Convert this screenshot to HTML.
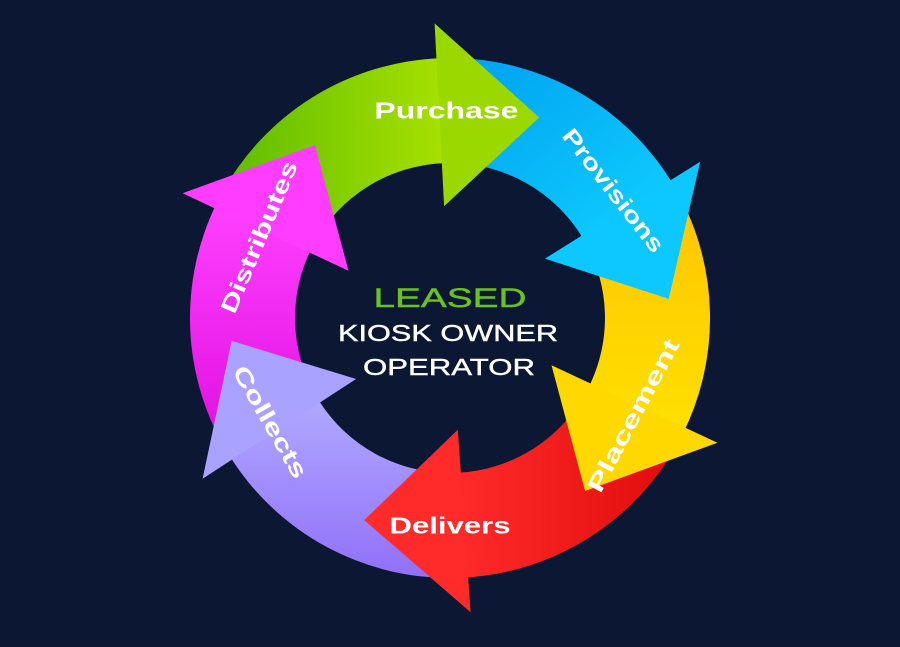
<!DOCTYPE html>
<html><head><meta charset="utf-8"><style>
html,body{margin:0;padding:0;background:#0c1833;}
svg{display:block}
text{font-family:"Liberation Sans",sans-serif;}
</style></head><body>
<svg id="s" width="900" height="647" viewBox="0 0 900 647" xmlns="http://www.w3.org/2000/svg">
<rect width="900" height="647" fill="#0c1833"/>
<defs>
<linearGradient id="g0" x1="0" y1="0" x2="1" y2="0"><stop offset="0" stop-color="#5cbc00"/><stop offset="1" stop-color="#a8e000"/></linearGradient>
<linearGradient id="g1" x1="0" y1="0" x2="1" y2="1"><stop offset="0" stop-color="#00a0f0"/><stop offset="1" stop-color="#10d0ff"/></linearGradient>
<linearGradient id="g2" x1="0" y1="0" x2="0" y2="1"><stop offset="0" stop-color="#ffc400"/><stop offset="1" stop-color="#ffe000"/></linearGradient>
<linearGradient id="g3" x1="0" y1="0" x2="1" y2="0"><stop offset="0" stop-color="#ff2a2a"/><stop offset="1" stop-color="#e00c0c"/></linearGradient>
<linearGradient id="g4" x1="0" y1="0" x2="0" y2="1"><stop offset="0" stop-color="#b0a8ff"/><stop offset="1" stop-color="#9070f8"/></linearGradient>
<linearGradient id="g5" x1="0" y1="0" x2="0" y2="1"><stop offset="0" stop-color="#ff40ff"/><stop offset="1" stop-color="#e010e0"/></linearGradient>
</defs>
<g id="arrows"></g>
<text x="450" y="307" text-anchor="middle" font-size="27" fill="#6cc21c" textLength="153" lengthAdjust="spacingAndGlyphs" stroke="#6cc21c" stroke-width="0.4">LEASED</text>
<text x="448" y="341" text-anchor="middle" font-size="23" fill="#ffffff" textLength="220" lengthAdjust="spacingAndGlyphs" stroke="#fff" stroke-width="0.4">KIOSK OWNER</text>
<text x="449" y="375" text-anchor="middle" font-size="23" fill="#ffffff" textLength="172" lengthAdjust="spacingAndGlyphs" stroke="#fff" stroke-width="0.4">OPERATOR</text>
</svg>
<script>
(function(){
var cx=450,cy=318,Ro=260,Ri=155,Ho=295,Hi=112;
var tips=[-66,-5,52,113,174,232];
var hc=["#9ad800","#0cc8ff","#ffd800","#ff2a2a","#aaa2ff","#ff3cff"];
var labels=["Purchase","Provisions","Placement","Delivers","Collects","Distributes"];
var lab=[[-91,0,144],[-38,52,150],[28,-62,170],[90,0,121],[150,60,126],[203,-67,163]];
function P(r,a){a=a*Math.PI/180;return (cx+r*Math.cos(a)).toFixed(1)+","+(cy+r*Math.sin(a)).toFixed(1);}
var g=document.getElementById("arrows"),h="",hh="";
for(var i=0;i<6;i++){
 var tip=tips[i],base=tip-27,prev=(i==0?tips[5]-360:tips[i-1]),start=prev-27+3;
 var d="M"+P(Ro,start)+" A"+Ro+","+Ro+" 0 0 1 "+P(Ro,base+1)+" L"+P(Ri,base+1)+" A"+Ri+","+Ri+" 0 0 0 "+P(Ri,start)+" Z";
 h+='<path d="'+d+'" fill="url(#g'+i+')"/>';
 var dh="M"+P(Ho,base)+" L"+P((Ro+Ri)/2+12,tip)+" L"+P(Hi,base)+" Z";
 hh+='<path d="'+dh+'" fill="'+hc[i]+'"/>';
}
h+=hh;
for(var i=0;i<6;i++){
 var a=lab[i][0]*Math.PI/180,r=(Ro+Ri)/2;
 var x=cx+r*Math.cos(a),y=cy+r*Math.sin(a);
 h+='<text x="0" y="8" text-anchor="middle" font-size="23" font-weight="bold" fill="#fff" textLength="'+lab[i][2]+'" lengthAdjust="spacingAndGlyphs" transform="translate('+x.toFixed(1)+','+y.toFixed(1)+') rotate('+lab[i][1]+')">'+labels[i]+'</text>';
}
g.innerHTML=h;
})();
</script>
</body></html>
